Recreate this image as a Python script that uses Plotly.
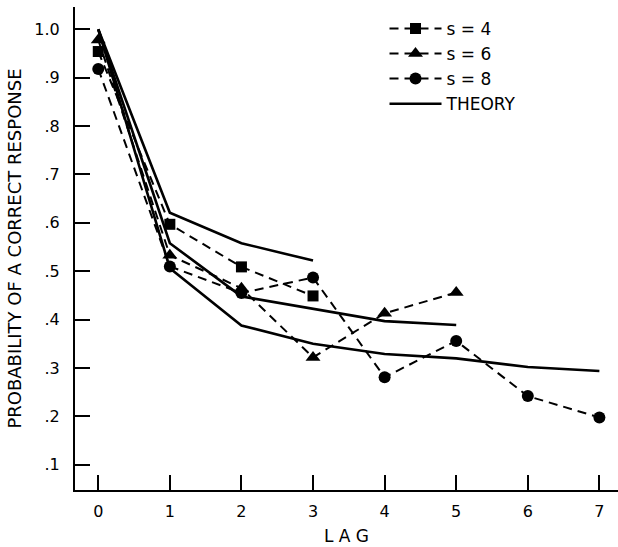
import plotly.graph_objects as go

lag = [0, 1, 2, 3, 4, 5, 6, 7]

s4 = [0.954, 0.597, 0.509, 0.449]
s6 = [0.978, 0.533, 0.465, 0.322, 0.413, 0.456]
s8 = [0.918, 0.510, 0.455, 0.487, 0.281, 0.356, 0.242, 0.198]

theory4 = [1.0, 0.621, 0.558, 0.522]
theory6 = [1.0, 0.558, 0.448, 0.422, 0.397, 0.389]
theory8 = [1.0, 0.506, 0.388, 0.350, 0.329, 0.320, 0.302, 0.294]

ytick_vals = [0.1, 0.2, 0.3, 0.4, 0.5, 0.6, 0.7, 0.8, 0.9, 1.0]
ytick_text = [".1", ".2", ".3", ".4", ".5", ".6", ".7", ".8", ".9", "1.0"]

fig = go.Figure()

# theory curves (solid)
for i, th in enumerate([theory4, theory6, theory8]):
    fig.add_trace(go.Scatter(
        x=lag[:len(th)], y=th, mode="lines", name="THEORY",
        line=dict(color="black", width=2.6),
        showlegend=(i == 0), legendrank=4,
    ))

# observed data (dashed with markers)
obs = [(s4, "square", 11, "s = 4"), (s6, "triangle-up", 13, "s = 6"), (s8, "circle", 12, "s = 8")]
for k, (vals, sym, sz, nm) in enumerate(obs):
    fig.add_trace(go.Scatter(
        x=lag[:len(vals)], y=vals, mode="lines+markers", name=nm,
        line=dict(color="black", width=2, dash="9px,6px"),
        marker=dict(symbol=sym, size=sz, color="black"),
        legendrank=k + 1,
    ))

fig.update_layout(
    width=618, height=547,
    margin=dict(l=75, r=0, t=7, b=57),
    paper_bgcolor="white", plot_bgcolor="white",
    font=dict(family="DejaVu Sans", color="black", size=15),
    legend=dict(x=0.57, y=0.992, xanchor="left", yanchor="top",
                font=dict(size=17), itemwidth=52, tracegroupgap=0,
                bgcolor="rgba(0,0,0,0)"),
)
fig.update_xaxes(
    range=[-0.325, 7.26], tickvals=lag, ticks="inside", ticklen=15, tickwidth=2,
    tickcolor="black", showline=True, linecolor="black", linewidth=2,
    showgrid=False, zeroline=False, tickfont=dict(size=16), automargin=False,
    ticklabelstandoff=6,
    title=dict(text="L A G", font=dict(size=17), standoff=10),
)
fig.update_yaxes(
    range=[0.048, 1.046], tickvals=ytick_vals, ticktext=ytick_text,
    ticks="inside", ticklen=15, tickwidth=2, tickcolor="black",
    showline=True, linecolor="black", linewidth=2,
    showgrid=False, zeroline=False, tickfont=dict(size=16), automargin=False,
    ticklabelstandoff=10,
    title=dict(text="PROBABILITY OF A CORRECT RESPONSE", font=dict(size=18), standoff=8),
)

# page body has a default 8px margin; remove it so the figure sits at the corner
fig.write_html("out.html", config={"displayModeBar": False},
               post_script="document.body.style.margin='0';")
